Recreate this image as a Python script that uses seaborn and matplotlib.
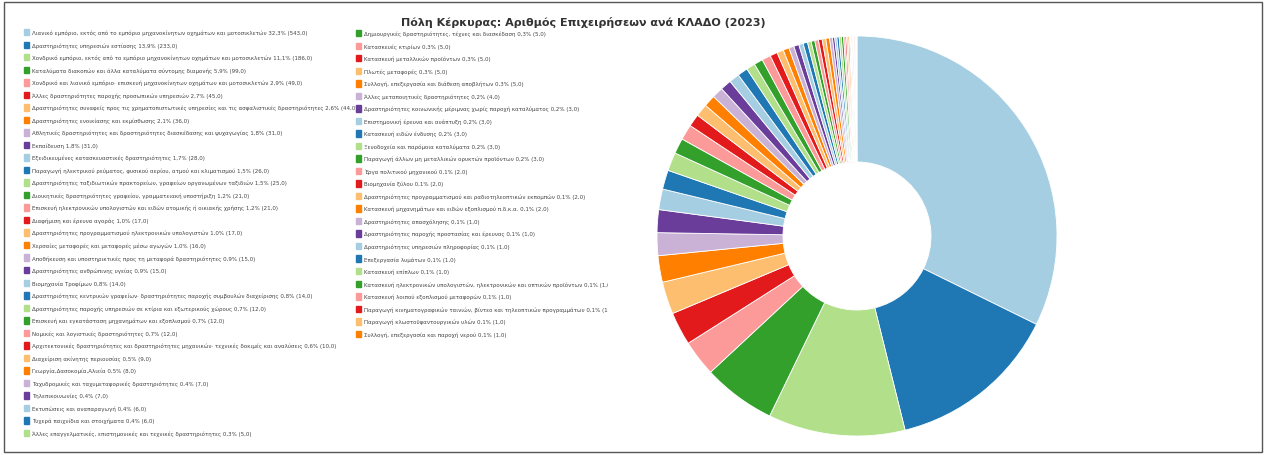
import matplotlib
matplotlib.use("Agg")
import matplotlib.pyplot as plt
from matplotlib.patches import Patch, Rectangle
import seaborn as sns

# categories (ΚΛΑΔΟΣ) and number of businesses
labels = [
    "Λιανικό εμπόριο, εκτός από το εμπόριο μηχανοκίνητων οχημάτων και μοτοσικλετών",
    "Δραστηριότητες υπηρεσιών εστίασης",
    "Χονδρικό εμπόριο, εκτός από το εμπόριο μηχανοκίνητων οχημάτων και μοτοσικλετών",
    "Καταλύματα διακοπών και άλλα καταλύματα σύντομης διαμονής",
    "Χονδρικό και λιανικό εμπόριο· επισκευή μηχανοκίνητων οχημάτων και μοτοσικλετών",
    "Άλλες δραστηριότητες παροχής προσωπικών υπηρεσιών",
    "Δραστηριότητες συναφείς προς τις χρηματοπιστωτικές υπηρεσίες και τις ασφαλιστικές δραστηριότητες",
    "Δραστηριότητες ενοικίασης και εκμίσθωσης",
    "Αθλητικές δραστηριότητες και δραστηριότητες διασκέδασης και ψυχαγωγίας",
    "Εκπαίδευση",
    "Εξειδικευμένες κατασκευαστικές δραστηριότητες",
    "Παραγωγή ηλεκτρικού ρεύματος, φυσικού αερίου, ατμού και κλιματισμού",
    "Δραστηριότητες ταξιδιωτικών πρακτορείων, γραφείων οργανωμένων ταξιδιών",
    "Διοικητικές δραστηριότητες γραφείου, γραμματειακή υποστήριξη",
    "Επισκευή ηλεκτρονικών υπολογιστών και ειδών ατομικής ή οικιακής χρήσης",
    "Διαφήμιση και έρευνα αγοράς",
    "Δραστηριότητες προγραμματισμού ηλεκτρονικών υπολογιστών",
    "Χερσαίες μεταφορές και μεταφορές μέσω αγωγών",
    "Αποθήκευση και υποστηρικτικές προς τη μεταφορά δραστηριότητες",
    "Δραστηριότητες ανθρώπινης υγείας",
    "Βιομηχανία Τροφίμων",
    "Δραστηριότητες κεντρικών γραφείων· δραστηριότητες παροχής συμβουλών διαχείρισης",
    "Δραστηριότητες παροχής υπηρεσιών σε κτίρια και εξωτερικούς χώρους",
    "Επισκευή και εγκατάσταση μηχανημάτων και εξοπλισμού",
    "Νομικές και λογιστικές δραστηριότητες",
    "Αρχιτεκτονικές δραστηριότητες και δραστηριότητες μηχανικών· τεχνικές δοκιμές και αναλύσεις",
    "Διαχείριση ακίνητης περιουσίας",
    "Γεωργία,Δασοκομία,Αλιεία",
    "Ταχυδρομικές και ταχυμεταφορικές δραστηριότητες",
    "Τηλεπικοινωνίες",
    "Εκτυπώσεις και αναπαραγωγή",
    "Τυχερά παιχνίδια και στοιχήματα",
    "Άλλες επαγγελματικές, επιστημονικές και τεχνικές δραστηριότητες",
    "Δημιουργικές δραστηριότητες, τέχνες και διασκέδαση",
    "Κατασκευές κτιρίων",
    "Κατασκευή μεταλλικών προϊόντων",
    "Πλωτές μεταφορές",
    "Συλλογή, επεξεργασία και διάθεση αποβλήτων",
    "Άλλες μεταποιητικές δραστηριότητες",
    "Δραστηριότητες κοινωνικής μέριμνας χωρίς παροχή καταλύματος",
    "Επιστημονική έρευνα και ανάπτυξη",
    "Κατασκευή ειδών ένδυσης",
    "Ξενοδοχεία και παρόμοια καταλύματα",
    "Παραγωγή άλλων μη μεταλλικών ορυκτών προϊόντων",
    "Έργα πολιτικού μηχανικού",
    "Βιομηχανία ξύλου",
    "Δραστηριότητες προγραμματισμού και ραδιοτηλεοπτικών εκπομπών",
    "Κατασκευή μηχανημάτων και ειδών εξοπλισμού π.δ.κ.α.",
    "Δραστηριότητες απασχόλησης",
    "Δραστηριότητες παροχής προστασίας και έρευνας",
    "Δραστηριότητες υπηρεσιών πληροφορίας",
    "Επεξεργασία λυμάτων",
    "Κατασκευή επίπλων",
    "Κατασκευή ηλεκτρονικών υπολογιστών, ηλεκτρονικών και οπτικών προϊόντων",
    "Κατασκευή λοιπού εξοπλισμού μεταφορών",
    "Παραγωγή κινηματογραφικών ταινιών, βίντεο και τηλεοπτικών προγραμμάτων",
    "Παραγωγή κλωστοϋφαντουργικών υλών",
    "Συλλογή, επεξεργασία και παροχή νερού",
]
counts = [543, 233, 186, 99, 49, 45, 44, 36, 31, 31, 28, 26, 25, 21, 21, 17, 17,
          16, 15, 15, 14, 14, 12, 12, 12, 10, 9, 8, 7, 7, 6, 6, 5,
          5, 5, 5, 5, 5, 4, 3, 3, 3, 3, 3, 2, 2, 2, 2,
          1, 1, 1, 1, 1, 1, 1, 1, 1, 1]
n_left = 33

sns.set_theme(style="white")
plt.rcParams['font.family'] = ['DejaVu Sans']

pal = sns.color_palette("Paired", 10)
colors = [pal[i % 10] for i in range(len(counts))]
total = sum(counts)

W, H = 1267, 456
fig = plt.figure(figsize=(W / 100, H / 100), dpi=100)
fig.patches.append(Rectangle((0.003, 0.006), 0.993, 0.988, transform=fig.transFigure,
                             fill=False, edgecolor="#555555", linewidth=1.0))

ax = fig.add_axes([(857 - 200) / W, (H - 237 - 200) / H, 400 / W, 400 / H])
ax.pie(counts, colors=colors, startangle=90, counterclock=False, radius=1.0,
       wedgeprops=dict(width=0.63, edgecolor="white", linewidth=0.6))
ax.set_aspect("equal")
ax.set_xlim(-1, 1)
ax.set_ylim(-1, 1)
ax.axis("off")

fig.text(583 / W, 1 - 22 / H, "Πόλη Κέρκυρας: Αριθμός Επιχειρήσεων ανά ΚΛΑΔΟ (2023)",
         ha="center", va="center", fontsize=8, fontweight="bold", color="#333333")

handles = []
texts = []
for lab, c, col in zip(labels, counts, colors):
    pct = f"{100 * c / total:.1f}".replace(".", ",")
    handles.append(Patch(facecolor=col, edgecolor=col))
    texts.append(f"{lab} {pct}% ({c},0)")

common = dict(frameon=False, fontsize=4.0, handlelength=0.9, handleheight=1.4,
              handletextpad=0.5, labelspacing=1.1, borderaxespad=0, borderpad=0,
              labelcolor="#444444")
leg1 = fig.legend(handles[:n_left], texts[:n_left], loc="upper left",
                  bbox_to_anchor=(24 / W, 1 - 30 / H), **common)
leg2 = fig.legend(handles[n_left:], texts[n_left:], loc="upper left",
                  bbox_to_anchor=(356 / W, 1 - 31 / H), **common)

# the right column is cut off at the edge of its box, as in the original
clip = Rectangle((0, 0), 608 / W, 1, transform=fig.transFigure, visible=False)
fig.patches.append(clip)
for t in leg2.get_texts():
    t.set_clip_path(clip)

fig.savefig("out.png", dpi=100, facecolor="white")
